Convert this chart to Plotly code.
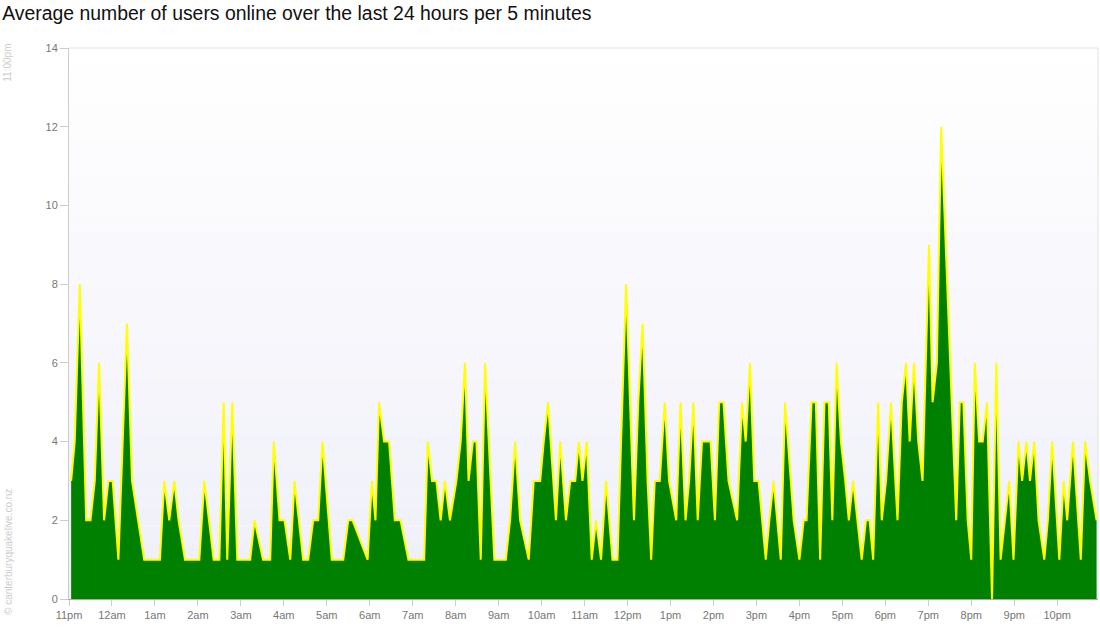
import plotly.graph_objects as go

# minutes after 11:00pm for each reading
minutes = [
    3, 8, 15, 24, 30, 36, 42, 49, 55, 61, 69, 75, 81, 88, 105, 127, 133, 140, 147, 153,
    162, 182, 189, 202, 210, 216, 221, 228, 235, 253, 259, 271, 281, 286, 294, 301, 309, 315, 327, 334,
    341, 348, 354, 367, 383, 390, 396, 417, 423, 428, 433, 440, 447, 455, 463, 474, 496, 501, 507, 513,
    519, 525, 532, 541, 547, 553, 558, 564, 569, 575, 581, 594, 610, 616, 623, 630, 642, 649, 658, 663,
    669, 680, 686, 694, 700, 707, 712, 717, 723, 730, 736, 743, 750, 759, 766, 771, 778, 789, 795, 801,
    808, 813, 818, 825, 832, 838, 848, 854, 861, 866, 872, 878, 884, 896, 902, 908, 914, 921, 933, 940,
    945, 951, 957, 963, 973, 978, 984, 994, 1000, 1012, 1020, 1026, 1030, 1037, 1043, 1049, 1055, 1061, 1066, 1072,
    1078, 1084, 1089, 1095, 1101, 1107, 1113, 1118, 1123, 1130, 1135, 1141, 1148, 1157, 1163, 1169, 1174, 1180, 1186, 1192,
    1201, 1206, 1212, 1218, 1239, 1244, 1249, 1255, 1260, 1265, 1271, 1276, 1282, 1289, 1295, 1301, 1307, 1313, 1319, 1326,
    1331, 1337, 1342, 1348, 1354, 1362, 1367, 1373, 1383, 1389, 1394, 1402, 1413, 1419, 1426, 1435,
]
users = [
    3, 4, 8, 2, 2, 3, 6, 2, 3, 3, 1, 4, 7, 3, 1, 1, 3, 2, 3, 2,
    1, 1, 3, 1, 1, 5, 1, 5, 1, 1, 2, 1, 1, 4, 2, 2, 1, 3, 1, 1,
    2, 2, 4, 1, 1, 2, 2, 1, 3, 2, 5, 4, 4, 2, 2, 1, 1, 4, 3, 3,
    2, 3, 2, 3, 4, 6, 3, 4, 4, 1, 6, 1, 1, 2, 4, 2, 1, 3, 3, 4,
    5, 2, 4, 2, 3, 3, 4, 3, 4, 1, 2, 1, 3, 1, 1, 4, 8, 2, 5, 7,
    3, 1, 3, 3, 5, 3, 2, 5, 2, 3, 5, 2, 4, 4, 2, 5, 5, 3, 2, 5,
    4, 6, 3, 3, 1, 2, 3, 1, 5, 2, 1, 2, 2, 5, 5, 1, 5, 5, 2, 6,
    4, 3, 2, 3, 2, 1, 2, 2, 1, 5, 2, 3, 5, 2, 5, 6, 4, 6, 4, 3,
    9, 5, 6, 12, 2, 5, 5, 2, 1, 6, 4, 4, 5, 0, 6, 1, 2, 3, 1, 4,
    3, 4, 3, 4, 2, 1, 2, 4, 1, 3, 2, 4, 1, 4, 3, 2,
]
hour_labels = ["11pm", "12am", "1am", "2am", "3am", "4am", "5am", "6am", "7am", "8am", "9am", "10am",
               "11am", "12pm", "1pm", "2pm", "3pm", "4pm", "5pm", "6pm", "7pm", "8pm", "9pm", "10pm"]
hour_ticks = [60 * i for i in range(len(hour_labels))]

fig = go.Figure()

# soft vertical gradient behind the plot
bands = 30
shapes = []
for i in range(bands):
    t = i / (bands - 1)
    r = round(255 - t * 16)
    g = round(255 - t * 16)
    b = round(255 - t * 6)
    shapes.append(dict(type="rect", xref="x domain", yref="y domain",
                       x0=0, x1=1, y0=1 - (i + 1) / bands, y1=1 - i / bands,
                       fillcolor=f"rgb({r},{g},{b})", line_width=0, layer="below"))
# top and right border
shapes.append(dict(type="line", xref="x domain", yref="y domain", x0=0, x1=1, y0=1, y1=1,
                   line=dict(color="#e2e2e2", width=1)))
shapes.append(dict(type="line", xref="x domain", yref="y domain", x0=1, x1=1, y0=0, y1=1,
                   line=dict(color="#e2e2e2", width=1)))

fig.add_trace(go.Scatter(
    x=minutes, y=users, mode="lines", fill="tozeroy",
    fillcolor="#008000", line=dict(color="#ffff00", width=2),
    hoverinfo="x+y",
))

fig.update_layout(
    width=1100, height=640,
    margin=dict(l=69, r=2, t=48, b=41),
    paper_bgcolor="white", plot_bgcolor="rgba(0,0,0,0)",
    showlegend=False,
    shapes=shapes,
    font=dict(family="Liberation Sans, Arial, sans-serif", color="#777"),
    title=dict(text="Average number of users online over the last 24 hours per 5 minutes",
               x=0.002, xanchor="left", y=0.99, yanchor="top",
               font=dict(size=19.4, color="#111")),
)
fig.update_xaxes(
    range=[0, 1437], tickvals=hour_ticks, ticktext=hour_labels,
    showgrid=False, zeroline=False, showline=True, linecolor="#aaa", linewidth=1,
    ticks="outside", ticklen=6, tickcolor="#ccc", tickfont=dict(size=11, color="#777"),
)
fig.update_yaxes(
    range=[0, 14], dtick=2, showgrid=False, zeroline=False,
    showline=True, linecolor="#ccc", linewidth=1,
    ticks="outside", ticklen=8, tickcolor="#ccc", tickfont=dict(size=11, color="#777"),
)

fig.add_annotation(text="11:00pm", xref="paper", yref="paper", x=-0.0595, y=1.011,
                   xanchor="center", yanchor="top", textangle=-90, showarrow=False,
                   font=dict(size=10, color="#cccccc"))
fig.add_annotation(text="© canterburyquakelive.co.nz", xref="paper", yref="paper", x=-0.0595, y=-0.033,
                   xanchor="center", yanchor="bottom", textangle=-90, showarrow=False,
                   font=dict(size=10, color="#cccccc"))

fig.write_html("out.html", config={"displayModeBar": False},
               post_script="document.body.style.margin='0';document.body.style.overflow='hidden';")
